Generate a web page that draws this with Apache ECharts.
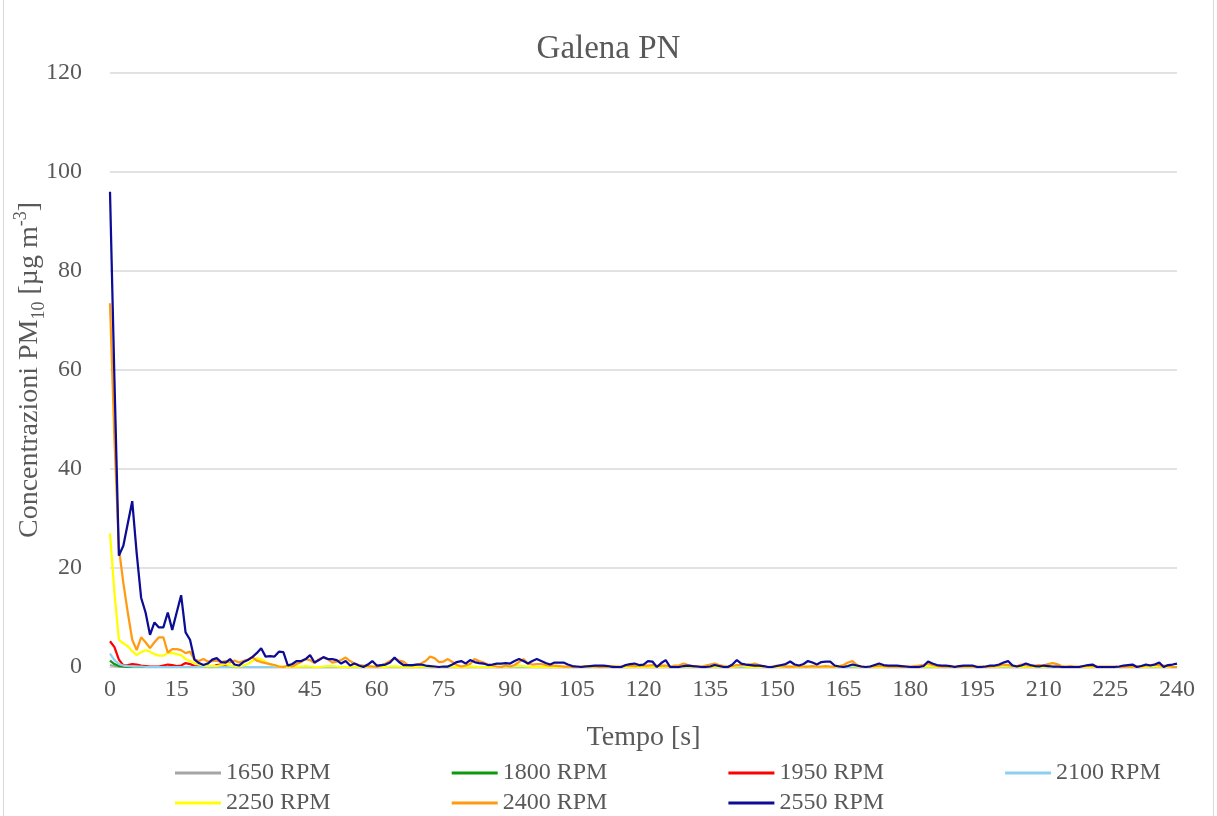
<!DOCTYPE html>
<html><head><meta charset="utf-8">
<script src="https://cdn.jsdelivr.net/npm/echarts@6/dist/echarts.min.js"></script>
<style>
html,body{margin:0;padding:0;background:#fff;}
#c{width:1217px;height:816px;position:absolute;left:0;top:0;}
.bd{position:absolute;top:0;width:1px;height:816px;background:#d9d9d9;}
</style></head>
<body>
<div id="c"></div>
<div class="bd" style="left:3px"></div>
<div class="bd" style="left:1213px"></div>
<script>
const time = [
0,1,2,3,4,5,6,7,8,9,10,11,12,13,14,15,16,17,18,19,
20,21,22,23,24,25,26,27,28,29,30,31,32,33,34,35,36,37,38,39,
40,41,42,43,44,45,46,47,48,49,50,51,52,53,54,55,56,57,58,59,
60,61,62,63,64,65,66,67,68,69,70,71,72,73,74,75,76,77,78,79,
80,81,82,83,84,85,86,87,88,89,90,91,92,93,94,95,96,97,98,99,
100,101,102,103,104,105,106,107,108,109,110,111,112,113,114,115,116,117,118,119,
120,121,122,123,124,125,126,127,128,129,130,131,132,133,134,135,136,137,138,139,
140,141,142,143,144,145,146,147,148,149,150,151,152,153,154,155,156,157,158,159,
160,161,162,163,164,165,166,167,168,169,170,171,172,173,174,175,176,177,178,179,
180,181,182,183,184,185,186,187,188,189,190,191,192,193,194,195,196,197,198,199,
200,201,202,203,204,205,206,207,208,209,210,211,212,213,214,215,216,217,218,219,
220,221,222,223,224,225,226,227,228,229,230,231,232,233,234,235,236,237,238,239,
240];

const seriesNames = ['1650 RPM','1800 RPM','1950 RPM','2100 RPM','2250 RPM','2400 RPM','2550 RPM'];
const seriesColors = ['#a5a5a5','#0a9a0a','#ff0000','#8ccff0','#ffff00','#ff9a12','#0c0c96'];
const xTicks = [0,15,30,45,60,75,90,105,120,135,150,165,180,195,210,225,240];
const yTicks = [0,20,40,60,80,100,120];

const rpm1650 = [
0.4,0.2,0.1,0,0,0,0,0,0,0,0,0,0,0,0,0,0,0,0,0,
0,0,0,0,0,0,0,0,0,0,0,0,0,0,0,0,0,0,0,0,
0,0,0,0,0,0,0,0,0,0,0,0,0,0,0,0,0,0,0,0,
0,0,0,0,0,0,0,0,0,0,0,0,0,0,0,0,0,0,0,0,
0,0,0,0,0,0,0,0,0,0,0,0,0,0,0,0,0,0,0,0,
0,0,0,0,0,0,0,0,0,0,0,0,0,0,0,0,0,0,0,0,
0,0,0,0,0,0,0,0,0,0,0,0,0,0,0,0,0,0,0,0,
0,0,0,0,0,0,0,0,0,0,0,0,0,0,0,0,0,0,0,0,
0,0,0,0,0,0,0,0,0,0,0,0,0,0,0,0,0,0,0,0,
0,0,0,0,0,0,0,0,0,0,0,0,0,0,0,0,0,0,0,0,
0,0,0,0,0,0,0,0,0,0,0,0,0,0,0,0,0,0,0,0,
0,0,0,0,0,0,0,0,0,0,0,0,0,0,0,0,0,0,0,0,
0];
const rpm1800 = [
1.3,0.6,0.2,0.1,0,0,0,0,0,0,0,0,0,0,0,0,0,0,0,0,
0,0,0,0,0,0,0,0,0,0,0,0,0,0,0,0,0,0,0,0,
0,0,0,0,0,0,0,0,0,0,0,0,0,0,0,0,0,0,0,0,
0,0,0,0,0,0,0,0,0,0,0,0,0,0,0,0,0,0,0,0,
0,0,0,0,0,0,0,0,0,0,0,0,0,0,0,0,0,0,0,0,
0,0,0,0,0,0,0,0,0,0,0,0,0,0,0,0,0,0,0,0,
0,0,0,0,0,0,0,0,0,0,0,0,0,0,0,0,0,0,0,0,
0,0,0,0,0,0,0,0,0,0,0,0,0,0,0,0,0,0,0,0,
0,0,0,0,0,0,0,0,0,0,0,0,0,0,0,0,0,0,0,0,
0,0,0,0,0,0,0,0,0,0,0,0,0,0,0,0,0,0,0,0,
0,0,0,0,0,0,0,0,0,0,0,0,0,0,0,0,0,0,0,0,
0,0,0,0,0,0,0,0,0,0,0,0,0,0,0,0,0,0,0,0,
0];
const rpm1950 = [
5.2,4,1.5,0.3,0.4,0.6,0.5,0.3,0.2,0.1,0.1,0.1,0.3,0.5,0.4,0.2,0.3,0.8,0.6,0.2,
0.1,0.1,0,0,0.4,0.5,0.2,0.1,0,0,0,0,0,0,0,0,0,0,0,0,
0,0,0,0,0,0,0,0,0,0,0,0,0,0,0,0,0,0,0,0,
0,0,0,0,0,0,0,0,0,0,0,0,0,0,0,0,0,0,0,0,
0,0,0,0,0,0,0,0,0,0,0,0,0,0,0,0,0,0,0,0,
0,0,0,0,0,0,0,0,0,0,0,0,0,0,0,0,0,0,0,0,
0,0,0,0,0,0,0,0,0,0,0,0,0,0,0,0,0,0,0,0,
0,0,0,0,0,0,0,0,0,0,0,0,0,0,0,0,0,0,0,0,
0,0,0,0,0,0,0,0,0,0,0,0,0,0,0,0,0,0,0,0,
0,0,0,0,0,0,0,0,0,0,0,0,0,0,0,0,0,0,0,0,
0,0,0,0,0,0,0,0,0,0,0,0,0,0,0,0,0,0,0,0,
0,0,0,0,0,0,0,0,0,0,0,0,0,0,0,0,0,0,0,0,
0];
const rpm2100 = [
2.7,1.4,0.6,0.3,0.2,0.1,0.1,0.1,0,0,0,0,0,0,0,0,0,0,0,0,
0,0,0,0,0,0,0,0,0,0,0,0,0,0,0,0,0,0,0,0,
0,0,0,0,0,0,0,0,0,0,0,0,0,0,0,0,0,0,0,0,
0,0,0,0,0,0,0,0,0,0,0,0,0,0,0,0,0,0,0,0,
0,0,0,0,0,0,0,0,0,0,0,0,0,0,0,0,0,0,0,0,
0,0,0,0,0,0,0,0,0,0,0,0,0,0,0,0,0,0,0,0,
0,0,0,0,0,0,0,0,0,0,0,0,0,0,0,0,0,0,0,0,
0,0,0,0,0,0,0,0,0,0,0,0,0,0,0,0,0,0,0,0,
0,0,0,0,0,0,0,0,0,0,0,0,0,0,0,0,0,0,0,0,
0,0,0,0,0,0,0,0,0,0,0,0,0,0,0,0,0,0,0,0,
0,0,0,0,0,0,0,0,0,0,0,0,0,0,0,0,0,0,0,0,
0,0,0,0,0,0,0,0,0,0,0,0,0,0,0,0,0,0,0,0,
0];
const rpm2250 = [
27,15,5.5,4.8,4.2,3.2,2.4,3,3.4,3.1,2.6,2.3,2.3,2.8,2.8,2.6,2.4,1.6,1.2,0.8,
0.5,0.3,0.2,0.3,0.2,0.4,0.6,0.3,0.2,0.1,0.3,0.6,1.2,1.8,1.5,1,0.5,0.3,0.1,0.1,
0,0,0.1,0.1,0.2,0.1,0,0,0.1,0.2,0.2,0.1,0,0,0,0.1,0,0,0,0.1,
0.1,0,0,0.1,0.2,0.1,0,0,0,0,0.1,0.1,0,0,0,0,0.1,0.1,0,0,
0,0.1,0.1,0,0,0,0,0,0.1,0.1,0.1,0.2,0.3,0.2,0.1,0,0,0,0,0,
0,0,0,0,0,0,0,0,0,0,0,0,0,0,0,0,0,0,0,0,
0,0.1,0.1,0,0,0.1,0,0,0,0.1,0.1,0,0,0,0,0,0.1,0,0,0,
0,0.2,0.3,0.1,0,0,0,0,0,0,0,0,0.1,0.1,0,0,0,0.1,0.1,0,
0,0.1,0,0,0,0.1,0.3,0.3,0.1,0,0,0,0,0,0,0,0,0,0,0,
0,0,0,0.1,0.2,0.1,0,0,0,0,0,0,0,0,0,0,0,0,0,0,
0.1,0.2,0.2,0.1,0,0,0.1,0,0,0,0,0.1,0.1,0,0,0,0,0,0,0,
0,0,0,0,0,0,0,0,0,0,0,0,0,0,0.1,0.2,0.1,0,0,0,
0];
const rpm2400 = [
73.5,46,24,17,11,5.5,3.4,6,5,3.8,5,6,6,2.9,3.6,3.6,3.4,2.8,3.1,1.5,
1.2,1.6,1.1,1.2,1.3,1,1.2,0.9,1.3,0.9,1.2,1.5,2,1.3,1,0.8,0.6,0.4,0.1,0,
0.3,0.1,0.6,1,1.6,1.4,0.8,1.6,1.9,1.6,0.9,1.1,1.4,1.9,1.2,0.7,0.4,0.3,0.2,0.1,
0,0.3,0.7,1.2,1.7,1.3,1.1,0.4,0.3,0.5,0.7,1.2,2.1,1.8,1,1.1,1.6,1,0.4,0.1,
0.3,0.6,1.6,1.2,0.9,0.5,0.3,0.1,0,0.3,0.1,0.4,1,1.6,0.7,0.5,0.6,0.6,0.4,0.3,
0.3,0.2,0.1,0.1,0,0,0.1,0.2,0.2,0.1,0,0,0.1,0.2,0.1,0.1,0.3,0.3,0.2,0.3,
0.3,0.3,0.4,0.2,0.3,0.3,0.1,0.3,0.3,0.7,0.4,0.2,0.2,0.1,0.3,0.5,0.7,0.4,0.2,0.1,
0.2,0.4,0.4,0.5,0.5,0.7,0.4,0.1,0,0.1,0.3,0.2,0.1,0.1,0.1,0.2,0.1,0.1,0.2,0.1,
0.1,0.2,0.1,0.1,0.2,0.4,0.9,1.2,0.4,0.1,0,0.1,0.2,0.3,0.2,0.1,0.1,0.1,0.1,0.1,
0.1,0.2,0.3,0.4,0.7,0.4,0.2,0.1,0.1,0.1,0.1,0.1,0.1,0.2,0.1,0.1,0.1,0.1,0.1,0.2,
0.3,0.5,0.4,0.3,0.2,0.5,0.4,0.2,0.3,0.4,0.3,0.6,0.8,0.6,0.2,0.1,0.2,0.1,0.1,0.2,
0.3,0.2,0.1,0.1,0.1,0.1,0.1,0,0,0.1,0.1,0.1,0.2,0.3,0.4,0.5,0.4,0.3,0.2,0,
0];
const rpm2550 = [
96,58,22.5,24.5,29,33.5,23,14,11,6.5,9,8,8,11,7.5,11,14.5,7,5.5,1.5,
0.8,0.4,0.7,1.5,1.8,1,0.9,1.6,0.5,0.3,1,1.4,2,2.8,3.8,2.1,2.2,2.1,3.1,3,
0.3,0.6,1.2,1.2,1.6,2.4,0.9,1.4,2,1.6,1.6,1.4,0.7,1.2,0.3,0.7,0.3,0,0.5,1.2,
0.3,0.4,0.5,0.9,1.9,1,0.4,0.4,0.4,0.5,0.5,0.3,0.2,0.1,0,0.1,0.1,0.5,1,1.2,
0.7,1.4,1,0.8,0.7,0.4,0.5,0.7,0.7,0.8,0.7,1.2,1.6,1.2,0.7,1.2,1.6,1.2,0.8,0.5,
0.9,0.9,0.9,0.5,0.2,0.1,0,0.1,0.2,0.3,0.3,0.3,0.2,0,0,0,0.4,0.6,0.7,0.4,
0.5,1.2,1.1,0,0.8,1.4,0,0,0,0.2,0.3,0.2,0.1,0,0,0.1,0.4,0.2,0,0,
0.5,1.4,0.7,0.5,0.4,0.3,0.3,0.2,0,0,0.2,0.4,0.6,1.1,0.5,0.3,0.6,1.2,0.9,0.5,
1,1.1,1.1,0.3,0.1,0,0.2,0.5,0.3,0.1,0,0.1,0.4,0.7,0.4,0.3,0.3,0.3,0.2,0.1,
0,0,0,0.2,1.1,0.7,0.4,0.3,0.3,0.2,0,0.2,0.3,0.3,0.3,0,0,0.1,0.3,0.3,
0.5,0.9,1.2,0.3,0.1,0.3,0.7,0.4,0.2,0.1,0.3,0.2,0.1,0.1,0,0,0,0,0,0.2,
0.4,0.5,0,0,0,0,0,0.1,0.3,0.4,0.5,0,0.2,0.5,0.3,0.5,0.9,0,0.4,0.5,
0.7];

const seriesValues = [rpm1650, rpm1800, rpm1950, rpm2100, rpm2250, rpm2400, rpm2550];

const FONT = 'Liberation Serif, Times New Roman, serif';
const TXT = '#595959';

const chart = echarts.init(document.getElementById('c'), null, {renderer: 'canvas'});

const legendText = {fontFamily: FONT, fontSize: 24, color: TXT};
const option = {
  animation: false,
  backgroundColor: '#ffffff',
  title: {
    text: 'Galena PN',
    left: 'center',
    top: 28,
    textStyle: {fontFamily: FONT, fontSize: 33, fontWeight: 'normal', color: TXT}
  },
  grid: {left: 110, right: 40, top: 73, bottom: 149, containLabel: false, outerBoundsMode: 'none'},
  legend: [
    {data: seriesNames.slice(0, 4), left: 175, top: 761, icon: 'rect', itemWidth: 46, itemHeight: 3,
     itemGap: 121, padding: 0, textStyle: legendText},
    {data: seriesNames.slice(4), left: 175, top: 791, icon: 'rect', itemWidth: 46, itemHeight: 3,
     itemGap: 121, padding: 0, textStyle: legendText}
  ],
  xAxis: {
    type: 'value', min: 0, max: 240, interval: 15,
    name: 'Tempo [s]', nameLocation: 'middle', nameGap: 57, nameMoveOverlap: false,
    nameTextStyle: {fontFamily: FONT, fontSize: 28, color: TXT},
    axisLine: {show: true, lineStyle: {color: '#d9d9d9', width: 1.5}},
    axisTick: {show: false},
    splitLine: {show: false},
    axisLabel: {fontFamily: FONT, fontSize: 24, color: TXT, margin: 11,
      formatter: v => (xTicks.indexOf(v) >= 0 ? String(v) : '')}
  },
  yAxis: {
    type: 'value', min: 0, max: 120, interval: 20,
    name: '{a|Concentrazioni PM}{sub|10}{a| [µg m}{sup|-3}{a|]}',
    nameLocation: 'middle', nameGap: 62, nameRotate: 90, nameMoveOverlap: false,
    nameTextStyle: {
      fontFamily: FONT, fontSize: 28, color: TXT,
      rich: {
        a: {fontFamily: FONT, fontSize: 28, color: TXT, lineHeight: 36, verticalAlign: 'middle'},
        sub: {fontFamily: FONT, fontSize: 18, color: TXT, lineHeight: 36, verticalAlign: 'bottom'},
        sup: {fontFamily: FONT, fontSize: 18, color: TXT, lineHeight: 36, verticalAlign: 'top'}
      }
    },
    axisLine: {show: false},
    axisTick: {show: false},
    splitLine: {show: true, lineStyle: {color: '#d9d9d9', width: 1.5}},
    axisLabel: {fontFamily: FONT, fontSize: 24, color: TXT, margin: 28,
      formatter: v => (yTicks.indexOf(v) >= 0 ? String(v) : '')}
  },
  series: seriesNames.map((name, i) => ({
    name: name,
    type: 'line',
    color: seriesColors[i],
    symbol: 'none',
    showSymbol: false,
    lineStyle: {color: seriesColors[i], width: 2.25},
    data: time.map((t, k) => [t, seriesValues[i][k]])
  }))
};
chart.setOption(option);
</script>
</body></html>
